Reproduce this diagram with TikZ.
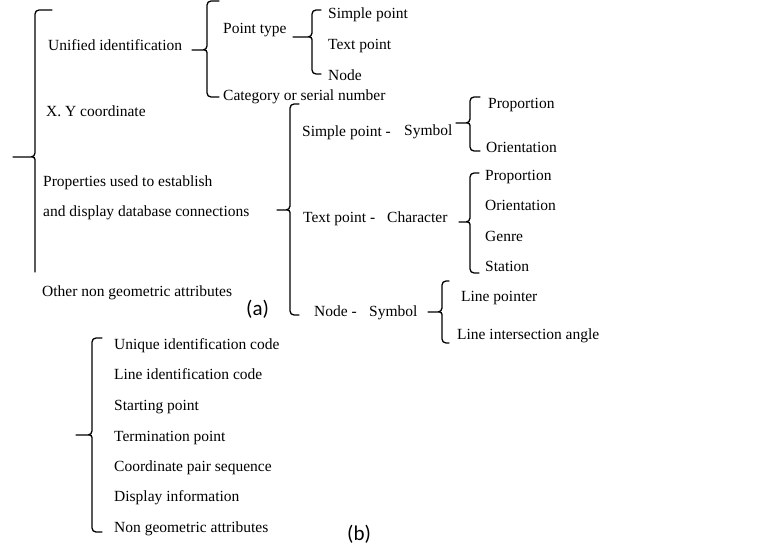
\documentclass[tikz,border=0pt]{standalone}
\usepackage{fontspec}
\setmainfont{Liberation Serif}
\newfontfamily\tagfont{Carlito}
\usetikzlibrary{positioning}
\tikzset{
  item/.style={anchor=base west,inner sep=0pt,font=\fontsize{15.5}{18}\selectfont},
  tag/.style={anchor=base west,inner sep=0pt,font=\tagfont\fontsize{21}{24}\selectfont},
  brc/.style={line width=1.3pt,rounded corners=4pt,line cap=round},
}
% brace: x, top, tip, bottom, stub end, hook end
\newcommand{\grp}[6]{%
  \draw[brc] (#6,#2) -- (#1,#2) -- (#1,#3) [rounded corners=2.5pt] -- (#5,#3);
  \draw[brc] (#1-3,#3) [rounded corners=2.5pt] -- (#1,#3) [rounded corners=4pt] -- (#1,#4) -- (#6,#4);}

\begin{document}
\begin{tikzpicture}[x=1pt,y=-1pt]
  \useasboundingbox (0,0) rectangle (768,551);

  % (a) first level
  \node[item] (ui)   at (48,51)   {Unified identification};
  \node[item] (xy)   at (46,116)  {X. Y coordinate};
  \node[item] (pr1)  at (43,186)  {Properties used to establish};
  \node[item] (pr2)  at (43,216)  {and display database connections};
  \node[item] (oth)  at (42,296)  {Other non geometric attributes};
  \draw[brc] (52,10) -- (35,10) -- (35,157) [rounded corners=2.5pt] -- (13,157);
  \draw[brc] (32,157) [rounded corners=2.5pt] -- (35,157) -- (35,272);

  % unified identification
  \node[item] (pt)   at (223,34)  {Point type};
  \node[item] (cat)  at (223,100) {Category or serial number};
  \grp{207}{1}{50}{97}{192}{219}
  \node[item] (sp)   at (328,19)  {Simple point};
  \node[item] (tp)   at (328,49)  {Text point};
  \node[item] (nd)   at (328,81)  {Node};
  \grp{312}{10}{37}{74}{293}{321}

  % database connections
  \node[item] (sp2)  at (302,136) {Simple point -};
  \node[item] (sym1) at (404,135) {Symbol};
  \node[item] (tp2)  at (303,222) {Text point -};
  \node[item] (chr)  at (387,222) {Character};
  \node[item] (nd2)  at (314,316) {Node -};
  \node[item] (sym2) at (369,316) {Symbol};
  \grp{290}{104}{210}{315}{277}{299}

  \node[item] (pro1) at (488,108) {Proportion};
  \node[item] (ori1) at (486,152) {Orientation};
  \grp{470}{97}{123}{151}{456}{480}

  \node[item] (pro2) at (485,180) {Proportion};
  \node[item] (ori2) at (485,210) {Orientation};
  \node[item] (gen)  at (485,241) {Genre};
  \node[item] (sta)  at (485,271) {Station};
  \grp{470}{173}{222}{273}{459}{479}

  \node[item] (lp)   at (461,301) {Line pointer};
  \node[item] (lia)  at (457,339) {Line intersection angle};
  \grp{442}{281}{312}{343}{428}{449}

  \node[tag] (ta) at (246,315) {(a)};

  % (b)
  \node[item] (b1) at (114,349) {Unique identification code};
  \node[item] (b2) at (114,379) {Line identification code};
  \node[item] (b3) at (114,410) {Starting point};
  \node[item] (b4) at (114,441) {Termination point};
  \node[item] (b5) at (114,471) {Coordinate pair sequence};
  \node[item] (b6) at (114,501) {Display information};
  \node[item] (b7) at (114,532) {Non geometric attributes};
  \grp{92}{338}{435}{532}{76}{102}

  \node[tag] (tb) at (347,540) {(b)};
\end{tikzpicture}
\end{document}
